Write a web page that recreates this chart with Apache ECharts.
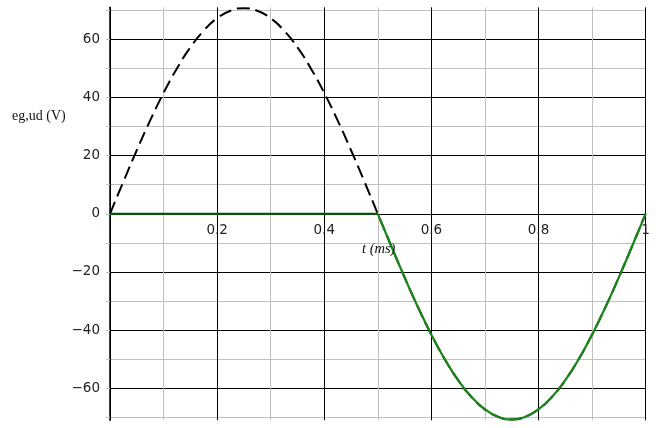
<!DOCTYPE html>
<html><head><meta charset="utf-8">
<script src="https://cdn.jsdelivr.net/npm/echarts@6/dist/echarts.min.js"></script>
<style>html,body{margin:0;padding:0;background:#fff}#c{width:656px;height:428px}</style>
</head><body><div id="c"></div>
<script>
// time in ms
var t = [0,0.025,0.05,0.075,0.1,0.125,0.15,0.175,0.2,0.225,0.25,0.275,0.3,0.325,0.35,0.375,0.4,0.425,0.45,0.475,0.5,
         0.525,0.55,0.575,0.6,0.625,0.65,0.675,0.7,0.725,0.75,0.775,0.8,0.825,0.85,0.875,0.9,0.925,0.95,0.975,1];
// eg (V), dashed black
var eg = [0,11.06,21.85,32.10,41.56,49.99,57.20,62.99,67.24,69.83,70.7,69.83,67.24,62.99,57.20,49.99,41.56,32.10,21.85,11.06,0,
          -11.06,-21.85,-32.10,-41.56,-49.99,-57.20,-62.99,-67.24,-69.83,-70.7,-69.83,-67.24,-62.99,-57.20,-49.99,-41.56,-32.10,-21.85,-11.06,0];
// ud (V), green
var ud = [0,0,0,0,0,0,0,0,0,0,0,0,0,0,0,0,0,0,0,0,0,
          -11.06,-21.85,-32.10,-41.56,-49.99,-57.20,-62.99,-67.24,-69.83,-70.7,-69.83,-67.24,-62.99,-57.20,-49.99,-41.56,-32.10,-21.85,-11.06,0];
var xLabels = ['0.2','0.4','0.6','0.8','1'];
var yLabels = [-60,-40,-20,0,20,40,60];
var yTitle = 'eg,ud (V)';
var xTitle = 't (ms)';

function pairs(xs, ys){ return xs.map(function(x,i){ return [x, ys[i]]; }); }
var half = 20; // index of t = 0.5
var udA = pairs(t, ud).slice(0, half + 1);
var udB = pairs(t, ud).slice(half);

var chart = echarts.init(document.getElementById('c'), null, {renderer:'canvas'});
var labelFont = {color:'#222', fontFamily:'DejaVu Sans', fontSize:13.5};
chart.setOption({
  animation:false,
  backgroundColor:'#fff',
  title:[
    {text:yTitle, left:7, top:104, textStyle:{fontFamily:'Liberation Serif', fontSize:14, fontWeight:'normal', color:'#111'}},
    {text:xTitle, left:357, top:237, textStyle:{fontFamily:'Liberation Serif', fontStyle:'italic', fontSize:14.5, fontWeight:'normal', color:'#111'}}
  ],
  grid:[
    {left:110, top:7.3, width:535.6, height:413, containLabel:false, outerBoundsMode:'none'},
    {left:110, top:10.24, width:535.6, height:407.1, containLabel:false, outerBoundsMode:'none'},
    {left:110, top:7.3, width:535.6, height:206.5, containLabel:false, outerBoundsMode:'none'}
  ],
  xAxis:[
    {gridIndex:0, type:'value', min:0, max:1, interval:0.2,
     axisLine:{show:true, onZero:true, lineStyle:{color:'#000', width:1}},
     axisTick:{show:false},
     axisLabel:{show:false},
     splitLine:{show:true, lineStyle:{color:'#000', width:1}},
     minorTick:{show:false, splitNumber:2},
     minorSplitLine:{show:true, lineStyle:{color:'#c0c0c0', width:1}}
    },
    {gridIndex:1, type:'value', min:0, max:1, show:false, splitLine:{show:false}},
    {gridIndex:2, type:'value', min:0, max:1, interval:0.2, position:'bottom',
     axisLine:{show:false}, axisTick:{show:false}, splitLine:{show:false},
     axisLabel:Object.assign({margin:10, formatter:function(v){
        var s = (Math.round(v*10)/10).toString();
        return xLabels.indexOf(s) >= 0 ? s : '';
     }}, labelFont)}
  ],
  yAxis:[
    {gridIndex:0, type:'value', min:-71, max:71,
     axisLine:{show:true, onZero:false, lineStyle:{color:'#000', width:1.5}},
     axisTick:{show:false}, axisLabel:{show:false}, splitLine:{show:false}},
    {gridIndex:1, type:'value', min:-70, max:70, interval:10,
     axisLine:{show:false},
     axisTick:{show:true, length:4, lineStyle:{color:'#c0c0c0', width:1}},
     axisLabel:Object.assign({margin:10, formatter:function(v){
        if (yLabels.indexOf(v) < 0) return '';
        return v < 0 ? '\u2212' + Math.abs(v) : String(v);
     }}, labelFont),
     splitLine:{show:true, lineStyle:{color:['#c0c0c0','#000'], width:1}}
    },
    {gridIndex:2, type:'value', min:0, max:1, show:false, splitLine:{show:false}}
  ],
  series:[
    {type:'line', xAxisIndex:0, yAxisIndex:0, data:pairs(t, eg), smooth:true, showSymbol:false,
     lineStyle:{color:'#000', width:2, type:[13,6]}, z:3},
    {type:'line', xAxisIndex:0, yAxisIndex:0, data:udA, showSymbol:false,
     lineStyle:{width:2.2, color:'#0b520b'}, z:4},
    {type:'line', xAxisIndex:0, yAxisIndex:0, data:udB, smooth:true, showSymbol:false,
     lineStyle:{width:2.2, color:'#1a861a'}, z:4}
  ]
});
</script></body></html>
